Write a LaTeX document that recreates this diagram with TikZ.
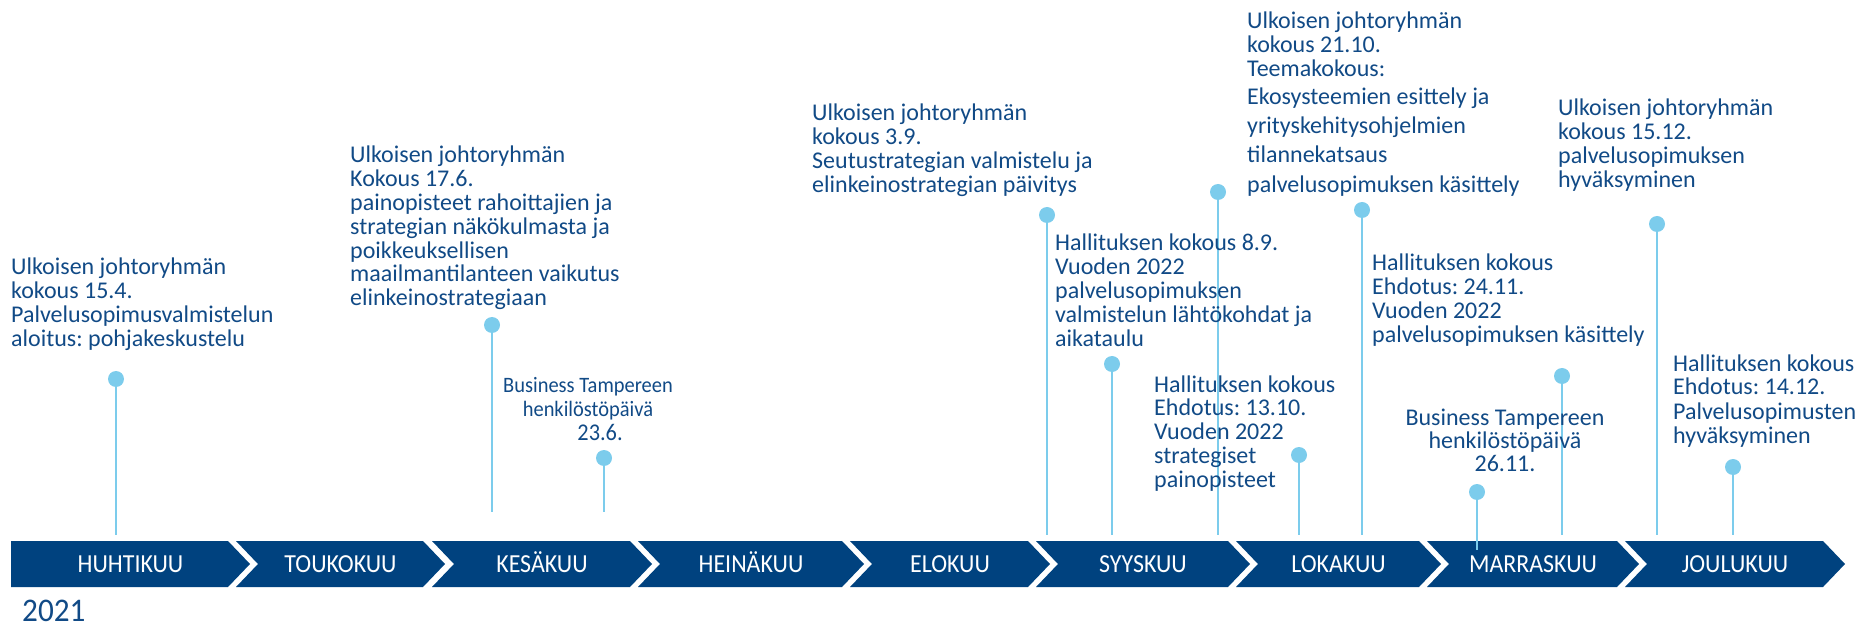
\documentclass[tikz,border=0pt]{standalone}
\usepackage{fontspec}
\setmainfont{Carlito}
\frenchspacing
\definecolor{navy}{HTML}{00427F}
\definecolor{txtblue}{HTML}{114A86}
\definecolor{sky}{HTML}{7CCCEC}
\newcommand\lblock[2][24pt]{\vtop{\frenchspacing\baselineskip=#1\lineskiplimit=-1000pt\halign{##\hfil\cr #2\crcr}}}
\newcommand\cblock[2][24pt]{\vtop{\frenchspacing\baselineskip=#1\lineskiplimit=-1000pt\halign{\hfil##\hfil\cr #2\crcr}}}
\tikzset{
  txt/.style={anchor=base west, inner sep=0pt, text=txtblue, font=\fontsize{24}{24}\selectfont},
  ctxt/.style={txt, anchor=base},
  dot/.style={circle, fill=sky, minimum size=16pt, inner sep=0pt},
  stem/.style={draw=sky, line width=1.6pt},
  month/.style={anchor=base, inner sep=0pt, text=white, font=\fontsize{26}{26}\selectfont},
  seg/.style={fill=navy}
}
\begin{document}
\begin{tikzpicture}[x=1pt,y=-1pt]
\useasboundingbox (0,0) rectangle (1864,628);
% band
\foreach \L/\R/\n/\lab [count=\i] in {11/228/0/HUHTIKUU, 236/423/22/TOUKOKUU, 432/630/22/KESÄKUU, 638/842/22/HEINÄKUU, 850/1028/22/ELOKUU, 1036/1228/22/SYYSKUU, 1236/1419/22/LOKAKUU, 1427/1617/22/MARRASKUU, 1625/1823/22/JOULUKUU}{
  \fill[seg] (\L,541) -- (\R,541) -- ({\R+22},564) -- (\R,587) -- (\L,587) -- ({\L+\n},564) -- cycle;
  \node[month] (m\i) at ({(\L+\R+22)/2},572) {\scalebox{0.92}[1]{\lab}};
}
% dots and stems
\foreach \i/\x/\y/\e in {1/116/379/535, 2/492/325/512, 3/604/458/512, 4/1047/215/535, 5/1112/364/535, 6/1218/192/535, 7/1299/455/535, 8/1362/210/535, 9/1477/492/550, 10/1562/376/535, 11/1657/224/535, 12/1733/467/535}{
  \node[dot] (d\i) at (\x,\y) {};
  \coordinate (e\i) at (\x,\e);
  \draw[stem] (d\i) -- (e\i);
}
% texts
\node[txt] (t1) at (11,275) {\lblock{Ulkoisen johtoryhmän\cr kokous 15.4.\cr Palvelusopimusvalmistelun\cr aloitus: pohjakeskustelu}};
\node[txt] (t2) at (350,163) {\lblock[23.8pt]{Ulkoisen johtoryhmän\cr Kokous 17.6.\cr painopisteet rahoittajien ja\cr strategian näkökulmasta ja\cr poikkeuksellisen\cr maailmantilanteen vaikutus\cr elinkeinostrategiaan}};
\node[ctxt, font=\fontsize{22}{24}\selectfont] (t3) at (588,392) {\scalebox{0.93}[1]{\cblock{Business Tampereen\cr henkilöstöpäivä\cr \hspace*{26pt}{\fontsize{24}{24}\selectfont 23.6.}}}};
\node[txt] (t4) at (812,121) {\lblock[23.8pt]{Ulkoisen johtoryhmän\cr kokous 3.9.\cr Seutustrategian valmistelu ja\cr elinkeinostrategian päivitys}};
\node[txt] (t5) at (1055,251) {\lblock[23.8pt]{Hallituksen kokous 8.9.\cr Vuoden 2022\cr palvelusopimuksen\cr valmistelun lähtökohdat ja\cr aikataulu}};
\node[txt] (t6) at (1154,392) {\lblock[23.8pt]{Hallituksen kokous\cr Ehdotus: 13.10.\cr Vuoden 2022\cr strategiset\cr painopisteet}};
\node[txt] (t7) at (1247,29) {\lblock{Ulkoisen johtoryhmän\cr kokous 21.10.\cr Teemakokous:\cr\noalign{\vskip4pt} Ekosysteemien esittely ja\cr\noalign{\vskip5pt} yrityskehitysohjelmien\cr\noalign{\vskip5pt} tilannekatsaus\cr\noalign{\vskip6pt} palvelusopimuksen käsittely}};
\node[txt] (t8) at (1372,271) {\lblock{Hallituksen kokous\cr Ehdotus: 24.11.\cr Vuoden 2022\cr palvelusopimuksen käsittely}};
\node[ctxt] (t9) at (1505,425) {\cblock[23pt]{Business Tampereen\cr henkilöstöpäivä\cr 26.11.}};
\node[txt] (t10) at (1558,116) {\lblock[23.7pt]{Ulkoisen johtoryhmän\cr kokous 15.12.\cr palvelusopimuksen\cr hyväksyminen}};
\node[txt] (t11) at (1673,371) {\lblock{Hallituksen kokous\cr Ehdotus: 14.12.\cr Palvelusopimusten\cr hyväksyminen}};
\node[anchor=base west, inner sep=0pt, text=txtblue, font=\fontsize{30}{30}\selectfont] (yr) at (22,621) {\scalebox{1.04}[1.1]{2021}};
\end{tikzpicture}
\end{document}
